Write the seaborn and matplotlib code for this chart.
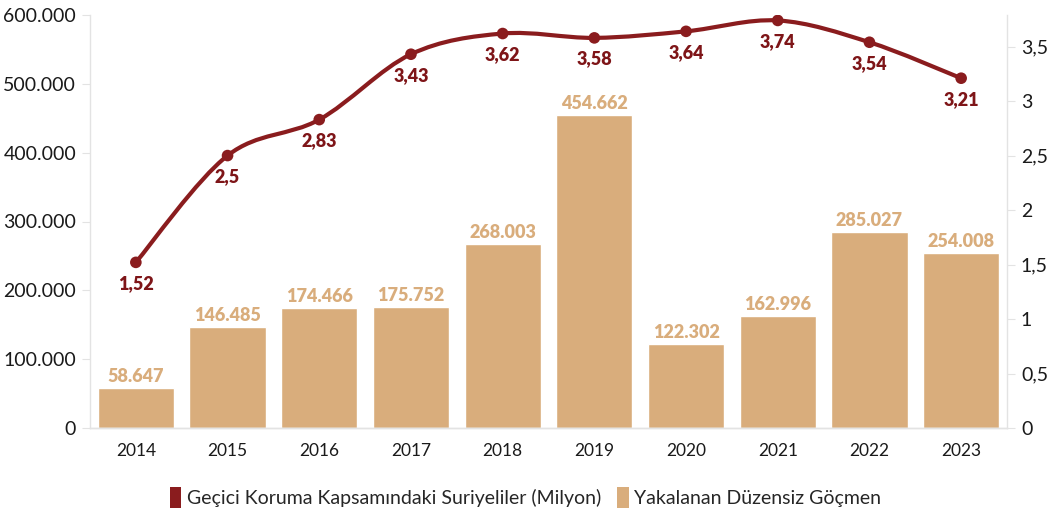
import numpy as np
import matplotlib
matplotlib.use("Agg")
import matplotlib.pyplot as plt
import seaborn as sns
from matplotlib.path import Path
from matplotlib.patches import PathPatch, Patch
from matplotlib.ticker import FuncFormatter, MultipleLocator

years = ["2014", "2015", "2016", "2017", "2018", "2019", "2020", "2021", "2022", "2023"]
migrants = [58647, 146485, 174466, 175752, 268003, 454662, 122302, 162996, 285027, 254008]
syrians = [1.52, 2.5, 2.83, 3.43, 3.62, 3.58, 3.64, 3.74, 3.54, 3.21]

bar_color = "#D9AD7C"
line_color = "#8A1C1E"
label_red = "#7E1518"
spine_gray = "#E3E3E3"

sns.set_style("white")
plt.rcParams["font.family"] = ["Lato", "DejaVu Sans"]

fig = plt.figure(figsize=(10.51, 5.17), dpi=100)
ax = fig.add_axes([90 / 1051, 89 / 517, 917 / 1051, 413 / 517])

sns.barplot(x=years, y=migrants, color=bar_color, saturation=1, width=0.83, ax=ax)
ax.set_xlim(-0.5, 9.5)
ax.set_ylim(0, 600000)
ax.yaxis.set_major_locator(MultipleLocator(100000))
ax.yaxis.set_major_formatter(FuncFormatter(lambda v, p: f"{int(v):,}".replace(",", ".")))

for i, v in enumerate(migrants):
    ax.annotate(f"{v:,}".replace(",", "."), (i, v), xytext=(0, 2), textcoords="offset points",
                ha="center", va="bottom", color=bar_color, fontsize=13, fontweight="heavy")

ax2 = ax.twinx()
ax2.set_ylim(0, 3.79)
ax2.yaxis.set_major_locator(MultipleLocator(0.5))
ax2.yaxis.set_major_formatter(FuncFormatter(lambda v, p: f"{v:g}".replace(".", ",")))

# smooth curve through the points (Catmull-Rom as cubic Bezier segments)
xs = np.arange(len(syrians), dtype=float)
ys = np.array(syrians)
verts = [(xs[0], ys[0])]
codes = [Path.MOVETO]
n = len(xs)
for i in range(n - 1):
    p0 = (xs[max(i - 1, 0)], ys[max(i - 1, 0)])
    p1 = (xs[i], ys[i])
    p2 = (xs[i + 1], ys[i + 1])
    p3 = (xs[min(i + 2, n - 1)], ys[min(i + 2, n - 1)])
    c1 = (p1[0] + (p2[0] - p0[0]) / 6, p1[1] + (p2[1] - p0[1]) / 6)
    c2 = (p2[0] - (p3[0] - p1[0]) / 6, p2[1] - (p3[1] - p1[1]) / 6)
    verts += [c1, c2, p2]
    codes += [Path.CURVE4] * 3
ax2.add_patch(PathPatch(Path(verts, codes), facecolor="none", edgecolor=line_color,
                        lw=3.0, capstyle="round", joinstyle="round"))
sns.scatterplot(x=xs, y=ys, color=line_color, s=70, edgecolor="none", ax=ax2, zorder=3)

for i, v in enumerate(syrians):
    ax2.annotate(f"{v:g}".replace(".", ","), (i, v), xytext=(0, -9), textcoords="offset points",
                 ha="center", va="top", color=label_red, fontsize=13, fontweight="heavy")

for a in (ax, ax2):
    a.spines["top"].set_visible(False)
    for s in ("left", "right", "bottom"):
        a.spines[s].set_color(spine_gray)
        a.spines[s].set_linewidth(1)
    a.tick_params(axis="y", length=6, color=spine_gray, labelsize=14, labelcolor="#1a1a1a", pad=4)
    a.set_xlabel("")
    a.set_ylabel("")
ax2.spines["left"].set_visible(False)
ax.spines["right"].set_visible(False)
ax.tick_params(axis="x", length=6, color=spine_gray, labelsize=12.5, labelcolor="#1a1a1a", pad=5)

handles = [Patch(facecolor=line_color, edgecolor="none", label="Geçici Koruma Kapsamındaki Suriyeliler (Milyon)"),
           Patch(facecolor=bar_color, edgecolor="none", label="Yakalanan Düzensiz Göçmen")]
fig.legend(handles=handles, loc="center", bbox_to_anchor=(0.5, 0.038), ncol=2, frameon=False,
           fontsize=14, handlelength=0.6, handleheight=1.3, handletextpad=0.3, columnspacing=0.8)

fig.savefig("out.png", dpi=100)
